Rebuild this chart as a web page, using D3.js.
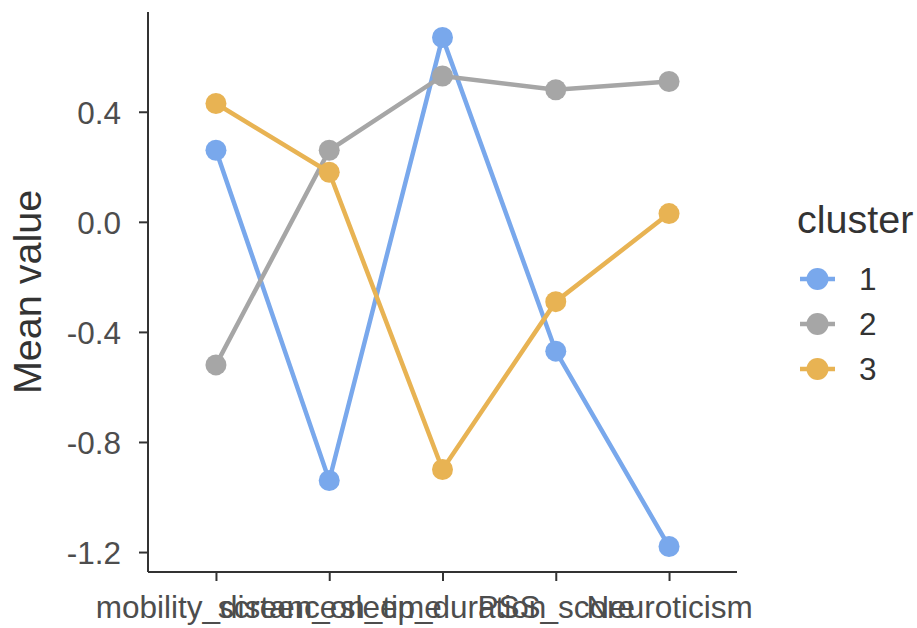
<!DOCTYPE html>
<html>
<head>
<meta charset="utf-8">
<script src="https://cdn.jsdelivr.net/npm/d3@7"></script>
<style>
  body { margin: 0; background: #fff; }
  text { font-family: "Liberation Sans", Arial, sans-serif; }
</style>
</head>
<body>
<div class="js-vis"></div>
<script>
const variables = ['mobility_distance', 'screen_on_time', 'sleep_duration', 'PSS_score', 'Neuroticism']
const clusters = ['1', '2', '3']
const cluster1 = [0.26, -0.94, 0.67, -0.47, -1.18]
const cluster2 = [-0.52, 0.26, 0.53, 0.48, 0.51]
const cluster3 = [0.43, 0.18, -0.90, -0.29, 0.03]
const yTicks = [0.4, 0.0, -0.4, -0.8, -1.2]
const colors = ['#79a8ec', '#a6a6a6', '#e8b353']

const series = [cluster1, cluster2, cluster3].map((vals, i) => ({
  cluster: clusters[i],
  color: colors[i],
  values: vals.map((v, j) => ({ variable: variables[j], value: v }))
}))

const W = 917, H = 628
const plot = { left: 148, right: 737, top: 12, bottom: 572 }

const svg = d3.select('.js-vis').append('svg')
    .attr('width', W)
    .attr('height', H)

// discrete x with ggplot-like 0.6 expansion
const x = d3.scalePoint()
  .domain(variables)
  .range([plot.left, plot.right])
  .padding(0.6)

const all = [].concat(cluster1, cluster2, cluster3)
const ext = d3.extent(all), pad = (ext[1] - ext[0]) * 0.05
const y = d3.scaleLinear()
  .domain([ext[0] - pad, ext[1] + pad])
  .range([plot.bottom, plot.top])

const axisColor = '#333'
const tickText = '#4d4d4d'
const fmt = d => d3.format('.1f')(d).replace('\u2212', '-')

// y axis
const yax = svg.append('g')
    .attr('transform', 'translate(' + plot.left + ',0)')
    .call(d3.axisLeft(y).tickValues(yTicks).tickFormat(fmt).tickSize(9).tickPadding(18))
yax.select('.domain').attr('stroke', axisColor).attr('stroke-width', 2)
  .attr('d', 'M0,' + plot.top + 'V' + plot.bottom)
yax.selectAll('.tick line').attr('stroke', axisColor).attr('stroke-width', 2)
yax.selectAll('.tick text')
  .attr('fill', tickText)
  .style('font-size', '31.5px')
  .attr('dy', '0.36em')

// x axis
const xax = svg.append('g')
    .attr('transform', 'translate(0,' + plot.bottom + ')')
    .call(d3.axisBottom(x).tickSize(9).tickPadding(15))
xax.select('.domain').attr('stroke', axisColor).attr('stroke-width', 2)
  .attr('d', 'M' + plot.left + ',0H' + plot.right)
xax.selectAll('.tick line').attr('stroke', axisColor).attr('stroke-width', 2)
xax.selectAll('.tick text')
  .attr('fill', tickText)
  .style('font-size', '31.5px')

// axis title
svg.append('text')
  .attr('transform', 'translate(41,' + ((plot.top + plot.bottom) / 2) + ') rotate(-90)')
  .attr('text-anchor', 'middle')
  .attr('fill', '#333')
  .style('font-size', '39.5px')
  .text('Mean value')

const line = d3.line()
  .x(d => x(d.variable))
  .y(d => y(d.value))

svg.append('g').selectAll('path')
  .data(series)
.enter().append('path')
  .attr('d', d => line(d.values))
  .attr('fill', 'none')
  .attr('stroke', d => d.color)
  .attr('stroke-width', 4.5)

svg.append('g').selectAll('g')
  .data(series)
.enter().append('g')
  .attr('fill', d => d.color)
  .selectAll('circle')
  .data(d => d.values)
.enter().append('circle')
  .attr('r', 10.5)
  .attr('cx', d => x(d.variable))
  .attr('cy', d => y(d.value))

// legend
const legend = svg.append('g').attr('transform', 'translate(797,0)')
legend.append('text')
  .attr('x', 0)
  .attr('y', 233)
  .attr('fill', '#333')
  .style('font-size', '39.5px')
  .text('cluster')

const item = legend.selectAll('.item')
  .data(series)
.enter().append('g')
  .attr('class', 'item')
  .attr('transform', (d, i) => 'translate(0,' + (279 + i * 45) + ')')
item.append('line')
  .attr('x1', 3).attr('x2', 38)
  .attr('stroke', d => d.color)
  .attr('stroke-width', 4.5)
item.append('circle')
  .attr('cx', 20.5)
  .attr('r', 11)
  .attr('fill', d => d.color)
item.append('text')
  .attr('x', 62)
  .attr('dy', '0.36em')
  .attr('fill', '#333')
  .style('font-size', '31.5px')
  .text(d => d.cluster)
</script>
</body>
</html>
